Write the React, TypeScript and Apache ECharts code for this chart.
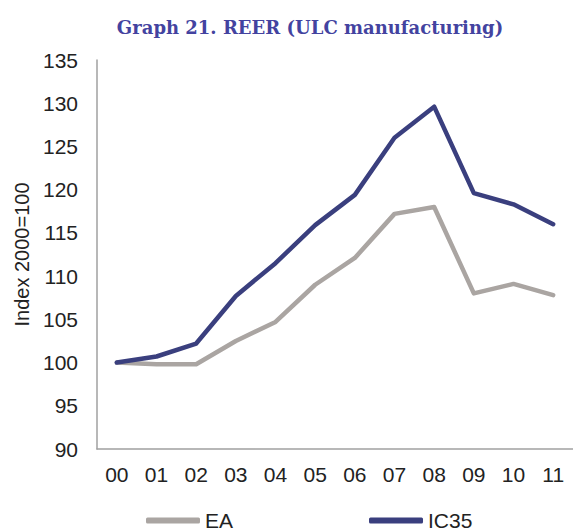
import React, { useEffect, useRef } from "react";
import * as echarts from "echarts";

const categories = ["00", "01", "02", "03", "04", "05", "06", "07", "08", "09", "10", "11"];
const eaValues = [100, 99.8, 99.8, 102.5, 104.7, 109.0, 112.1, 117.2, 118.0, 108.0, 109.1, 107.8];
const ic35Values = [100, 100.7, 102.2, 107.7, 111.5, 115.9, 119.4, 126.0, 129.6, 119.6, 118.3, 116.0];
const yTicks = { min: 90, max: 135, interval: 5 };

export default function App() {
  const ref = useRef<HTMLDivElement>(null);
  useEffect(() => {
    if (!ref.current) return;
    const chart = echarts.init(ref.current, null, { renderer: "svg" });
    const font = "Liberation Sans, Arial, sans-serif";
    chart.setOption({
      animation: false,
      backgroundColor: "#ffffff",
      title: {
        text: "Graph 21. REER (ULC manufacturing)",
        left: 305,
        textAlign: "center",
        top: 13,
        textStyle: {
          fontFamily: "DejaVu Serif, serif",
          fontWeight: "bold",
          fontSize: 18,
          color: "#4343a0",
        },
      },
      legend: {
        left: 141,
        top: 505,
        itemWidth: 54,
        itemHeight: 6,
        itemGap: 136,
        icon: "roundRect",
        textStyle: { fontFamily: font, fontSize: 21, color: "#222" },
        data: ["EA", "IC35"],
      },
      grid: { left: 97, top: 60, width: 484, bottom: 79, containLabel: false },
      xAxis: {
        type: "category",
        data: categories,
        boundaryGap: true,
        axisLine: { lineStyle: { color: "#a0a0a0", width: 1.5 } },
        axisTick: { show: false },
        axisLabel: { fontFamily: font, fontSize: 21, color: "#222", margin: 15 },
      },
      yAxis: {
        type: "value",
        min: yTicks.min,
        max: yTicks.max,
        interval: yTicks.interval,
        name: "Index 2000=100",
        nameLocation: "middle",
        nameGap: 62,
        nameTextStyle: { fontFamily: font, fontSize: 20, color: "#222" },
        axisLine: { show: true, lineStyle: { color: "#a0a0a0", width: 1.5 } },
        axisTick: { show: false },
        splitLine: { show: false },
        axisLabel: { fontFamily: font, fontSize: 21, color: "#222", margin: 19 },
      },
      series: [
        {
          name: "EA",
          type: "line",
          data: eaValues,
          showSymbol: false,
          symbol: "none",
          lineStyle: { color: "#aaa5a2", width: 4.5, cap: "round", join: "round" },
          itemStyle: { color: "#aaa5a2" },
        },
        {
          name: "IC35",
          type: "line",
          data: ic35Values,
          showSymbol: false,
          symbol: "none",
          lineStyle: { color: "#3a3f7e", width: 4.5, cap: "round", join: "round" },
          itemStyle: { color: "#3a3f7e" },
        },
      ],
    });
    return () => chart.dispose();
  }, []);
  return <div ref={ref} style={{ width: 573, height: 528, position: "absolute", left: 0, top: 0 }} />;
}
